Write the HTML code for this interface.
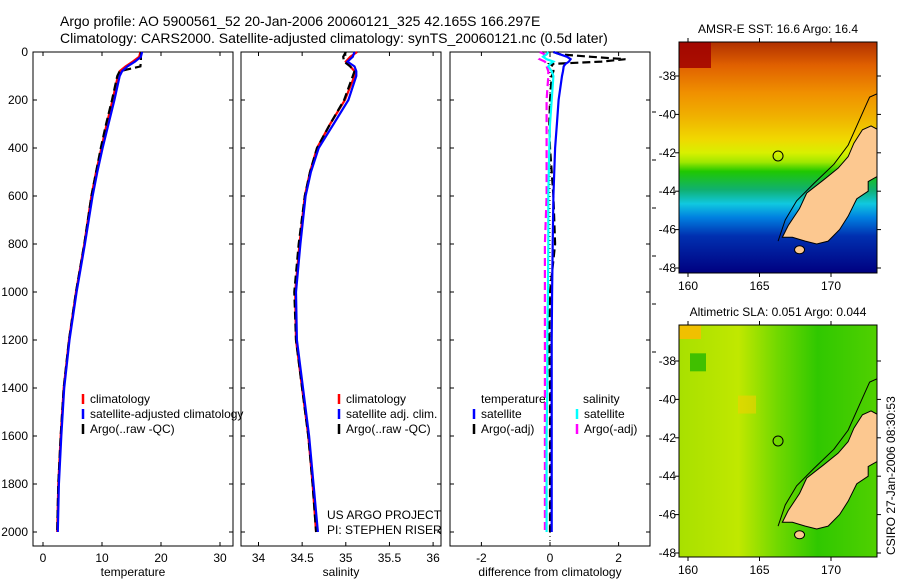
<!DOCTYPE html>
<html><head><meta charset="utf-8"><style>
html,body{margin:0;padding:0;background:#fff;}
svg{display:block;font-family:"Liberation Sans",sans-serif;}
</style></head><body>
<svg id="fig" width="900" height="580" viewBox="0 0 900 580" xmlns="http://www.w3.org/2000/svg">
<defs>
<linearGradient id="sstGrad" x1="0" y1="0" x2="0" y2="1">
<stop offset="0" stop-color="#b03000"/><stop offset="0.1" stop-color="#e06000"/>
<stop offset="0.22" stop-color="#f09000"/><stop offset="0.32" stop-color="#f0b000"/>
<stop offset="0.42" stop-color="#f0d800"/><stop offset="0.48" stop-color="#d8f000"/>
<stop offset="0.52" stop-color="#a0e800"/><stop offset="0.56" stop-color="#20c800"/>
<stop offset="0.64" stop-color="#10b070"/><stop offset="0.7" stop-color="#10c8e0"/>
<stop offset="0.76" stop-color="#0080e0"/><stop offset="0.84" stop-color="#0030b0"/>
<stop offset="1" stop-color="#000080"/></linearGradient>
<linearGradient id="slaGrad" x1="0" y1="0" x2="1" y2="0">
<stop offset="0" stop-color="#a8e000"/><stop offset="0.3" stop-color="#c0e800"/>
<stop offset="0.5" stop-color="#70d800"/><stop offset="0.7" stop-color="#30c800"/>
<stop offset="1" stop-color="#50d000"/></linearGradient>
</defs>
<text x="60" y="26" font-size="14">Argo profile: AO 5900561_52 20-Jan-2006 20060121_325 42.165S 166.297E</text>
<text x="60" y="43" font-size="14">Climatology: CARS2000. Satellite-adjusted climatology: synTS_20060121.nc (0.5d later)</text>
<g id="g"></g>
</svg>
<script>
// depth levels (m)
const depths = [0,20,40,60,80,100,200,300,400,500,600,800,1000,1200,1400,1600,1800,2000];
const tempClim = [16.5,16.3,15.2,14.0,13.0,12.7,11.8,10.8,9.9,9.0,8.2,7.0,5.6,4.4,3.5,3.0,2.6,2.4];
const tempSat  = [16.8,16.6,15.6,14.3,13.4,13.0,12.1,11.1,10.1,9.2,8.4,7.1,5.7,4.5,3.6,3.1,2.7,2.5];
const tempArgo = [16.6,16.6,16.6,16.5,13.0,12.6,11.7,10.7,9.8,9.0,8.2,7.0,5.6,4.4,3.5,3.0,2.6,2.4];
const salClim  = [35.13,35.05,35.0,35.05,35.1,35.1,34.99,34.82,34.67,34.59,34.53,34.47,34.42,34.43,34.5,34.57,34.62,34.66];
const salSat   = [35.1,35.08,35.02,35.1,35.12,35.12,35.03,34.86,34.69,34.6,34.54,34.48,34.43,34.44,34.51,34.58,34.63,34.68];
const salArgo  = [35.0,34.97,34.98,35.05,35.1,35.08,34.98,34.82,34.67,34.59,34.53,34.46,34.41,34.43,34.5,34.57,34.62,34.66];
const dDepths  = [0,10,20,30,40,50,60,80,100,200,300,400,600,800,1000,1200,1400,1600,1800,2000];
const dTempSat = [0.1,0.3,0.5,0.6,0.55,0.45,0.4,0.38,0.35,0.25,0.2,0.15,0.1,0.08,0.06,0.05,0.05,0.05,0.05,0.05];
const dTempArgo= [0.1,0.3,1.2,2.2,1.5,0.0,0.1,0.1,0.05,0.0,-0.02,0.0,0.1,0.15,0.0,-0.02,0.0,0.0,0.0,0.0];
const dSalSat  = [-0.05,-0.1,-0.2,-0.1,0.1,0.0,-0.05,0.05,0.1,0.05,0.0,-0.02,-0.05,-0.05,-0.06,-0.08,-0.08,-0.1,-0.1,-0.1];
const dSalArgo = [-0.3,-0.15,-0.2,-0.3,-0.15,-0.1,-0.1,-0.05,-0.05,-0.1,-0.1,-0.1,-0.1,-0.15,-0.15,-0.15,-0.15,-0.15,-0.15,-0.15];
const depthTicks = [0,200,400,600,800,1000,1200,1400,1600,1800,2000];
const tempTicks = [0,10,20,30];
const salTicks = [34,34.5,35,35.5,36];
const diffTicks = [-2,0,2];
const latTicks = [38,40,42,44,46,48];
const lonTicks = [160,165,170];

const NS="http://www.w3.org/2000/svg";
const G=document.getElementById('g');
function mk(tag,attrs,parent){const e=document.createElementNS(NS,tag);for(const k in attrs)e.setAttribute(k,attrs[k]);(parent||G).appendChild(e);return e;}
const TOP=52,BOT=546;
const yD=d=>52+d*0.24;
const panels=[
 {x0:33,x1:233,f:v=>43+v*5.9,ticks:tempTicks,label:'temperature',name:'temperature-panel'},
 {x0:241,x1:441,f:v=>258.5+(v-34)*87.3,ticks:salTicks,label:'salinity',name:'salinity-panel'},
 {x0:450,x1:650,f:v=>550+v*34.3,ticks:diffTicks,label:'difference from climatology',name:'difference-panel'}
];
panels.forEach((p,i)=>{
 const r=mk('rect',{x:p.x0,y:TOP,width:p.x1-p.x0,height:BOT-TOP,fill:'none',stroke:'#000','stroke-width':1});
 
 
 p.ticks.forEach(t=>{
  const x=p.f(t);
  mk('line',{x1:x,y1:BOT,x2:x,y2:BOT-4,stroke:'#000'});
  mk('line',{x1:x,y1:TOP,x2:x,y2:TOP+4,stroke:'#000'});
  const tx=mk('text',{x:x,y:BOT+16,'font-size':12,'text-anchor':'middle'});
  tx.textContent=t;
  
  
 });
 depthTicks.forEach(d=>{
  const y=yD(d);
  mk('line',{x1:p.x0,y1:y,x2:p.x0+4,y2:y,stroke:'#000'});
  mk('line',{x1:p.x1,y1:y,x2:p.x1-4,y2:y,stroke:'#000'});
  if(i===0){const tx=mk('text',{x:28,y:y+4,'font-size':12,'text-anchor':'end'});tx.textContent=d;
   
   }
 });
 const xl=mk('text',{x:(p.x0+p.x1)/2,y:BOT+30,'font-size':12,'text-anchor':'middle'});
 xl.textContent=p.label;
 
 
});
function line(ds,vals,f,color,dash,name){
 const pts=ds.map((d,k)=>f(vals[k]).toFixed(1)+','+yD(d).toFixed(1)).join(' ');
 const e=mk('polyline',{points:pts,fill:'none',stroke:color,'stroke-width':2.2,'stroke-dasharray':dash||'none'});
 
 
}
line(depths,tempClim,panels[0].f,'#ff0000',null,'temp-climatology-line');
line(depths,tempArgo,panels[0].f,'#000',"8,4",'temp-argo-line');
line(depths,tempSat,panels[0].f,'#0000ff',null,'temp-satellite-line');
line(depths,salClim,panels[1].f,'#ff0000',null,'sal-climatology-line');
line(depths,salArgo,panels[1].f,'#000',"8,4",'sal-argo-line');
line(depths,salSat,panels[1].f,'#0000ff',null,'sal-satellite-line');
mk('line',{x1:panels[2].f(0),y1:TOP,x2:panels[2].f(0),y2:BOT,stroke:'#000','stroke-dasharray':'1,3'});
line(dDepths,dTempArgo,panels[2].f,'#000',"8,4",'diff-temp-argo-line');
line(dDepths,dSalArgo,panels[2].f,'#ff00ff',"8,4",'diff-sal-argo-line');
line(dDepths,dTempSat,panels[2].f,'#0000ff',null,'diff-temp-satellite-line');
line(dDepths,dSalSat,panels[2].f,'#00ffff',null,'diff-sal-satellite-line');
depthTicks.slice(1,7).forEach(d=>mk('line',{x1:652,y1:yD(d)+12,x2:656,y2:yD(d)+12,stroke:'#000'}));

function leg(x,y,color,txt,name){
 const l=mk('line',{x1:x,y1:y-9,x2:x,y2:y+1,stroke:color,'stroke-width':2.5});
 
 
 const t=mk('text',{x:x+7,y:y,'font-size':12});t.textContent=txt;
 
 
}
leg(83,403,'#ff0000','climatology','legend-entry');
leg(83,418,'#0000ff','satellite-adjusted climatology','legend-entry');
leg(83,433,'#000','Argo(..raw -QC)','legend-entry');
leg(339,403,'#ff0000','climatology','legend-entry');
leg(339,418,'#0000ff','satellite adj. clim.','legend-entry');
leg(339,433,'#000','Argo(..raw -QC)','legend-entry');
[['temperature',481,403],['salinity',583,403]].forEach(a=>{const t=mk('text',{x:a[1],y:a[2],'font-size':12});t.textContent=a[0];
 
 });
leg(474,418,'#0000ff','satellite','legend-entry');
leg(474,433,'#000','Argo(-adj)','legend-entry');
leg(577,418,'#00ffff','satellite','legend-entry');
leg(577,433,'#ff00ff','Argo(-adj)','legend-entry');
[['US ARGO PROJECT',519],['PI: STEPHEN RISER',534]].forEach(a=>{const t=mk('text',{x:327,y:a[1],'font-size':12});t.textContent=a[0];
 
 });

// maps
const landLon=[166.6,167,167.8,168.3,169.5,170.5,171.2,171.6,172.2,172.8,173.3,173.3,172.6,172.6,171.8,171.2,170.6,169.8,169,168.2,167.3];
const landLat=[46.4,45.8,44.9,44.1,43.4,42.8,42.2,41.5,40.8,40.6,40.8,43.2,43.5,44.0,44.4,45.3,46.0,46.6,46.75,46.6,46.4];
const coastLon=[166.3,166.8,167.6,168.8,170.2,171.2,171.8,172.4,172.7,173.3];
const coastLat=[46.6,45.5,44.5,43.6,42.6,41.6,40.6,39.6,39.1,38.9];
const argoLon=166.297, argoLat=42.165;
const mx=lon=>688+(lon-160)*14.3;
function map(top,frameTop,frameBot,fill,title,name){
 const my=lat=>top+(lat-38)*19.2;
 const cp=mk('clipPath',{id:name+'-clip'});
 mk('rect',{x:679,y:frameTop,width:198,height:frameBot-frameTop},cp);
 const g=mk('g',{'clip-path':'url(#'+name+'-clip)'});
 
 
 mk('rect',{x:679,y:frameTop,width:198,height:frameBot-frameTop,fill:fill},g);
 if(name==='sst-map') mk('rect',{x:679,y:frameTop,width:32,height:26,fill:'#a00000',opacity:0.85},g);
 if(name==='sla-map'){mk('rect',{x:679,y:frameTop,width:22,height:14,fill:'#f0c000'},g);
  mk('rect',{x:690,y:my(37.6),width:16,height:18,fill:'#40c000'},g);
  mk('rect',{x:738,y:my(39.8),width:18,height:18,fill:'#f0d000',opacity:0.6},g);}
 mk('polyline',{points:coastLon.map((l,k)=>mx(l)+','+my(coastLat[k])).join(' '),fill:'none',stroke:'#000','stroke-width':1},g);
 const land=mk('polygon',{points:landLon.map((l,k)=>mx(l)+','+my(landLat[k])).join(' '),fill:'#fcc890',stroke:'#000','stroke-width':1},g);
 
 
 mk('ellipse',{cx:mx(167.8),cy:my(47.05),rx:5,ry:4,fill:'#fcc890',stroke:'#000'},g);
 const c=mk('circle',{cx:mx(argoLon),cy:my(argoLat),r:5,fill:'none',stroke:'#000','stroke-width':1});
 
 
 mk('rect',{x:679,y:frameTop,width:198,height:frameBot-frameTop,fill:'none',stroke:'#000'});
 latTicks.forEach(l=>{const y=my(l);
  mk('line',{x1:679,y1:y,x2:675,y2:y,stroke:'#000'});mk('line',{x1:877,y1:y,x2:881,y2:y,stroke:'#000'});
  const t=mk('text',{x:676,y:y+4,'font-size':12,'text-anchor':'end'});t.textContent='-'+l;
  
  });
 lonTicks.forEach(l=>{const x=mx(l);
  mk('line',{x1:x,y1:frameBot,x2:x,y2:frameBot+4,stroke:'#000'});mk('line',{x1:x,y1:frameTop,x2:x,y2:frameTop-4,stroke:'#000'});
  const t=mk('text',{x:x,y:frameBot+17,'font-size':12,'text-anchor':'middle'});t.textContent=l;
  
  });
 const tt=mk('text',{x:778,y:frameTop-9,'font-size':12,'text-anchor':'middle'});tt.textContent=title;
 
 
}
map(76,42,273,'url(#sstGrad)','AMSR-E SST: 16.6 Argo: 16.4','sst-map');
map(361,325,557,'url(#slaGrad)','Altimetric SLA: 0.051 Argo: 0.044','sla-map');
const cr=mk('text',{x:0,y:0,'font-size':12,transform:'translate(895,555) rotate(-90)'});
cr.textContent='CSIRO 27-Jan-2006 08:30:53';


</script>
</body></html>
